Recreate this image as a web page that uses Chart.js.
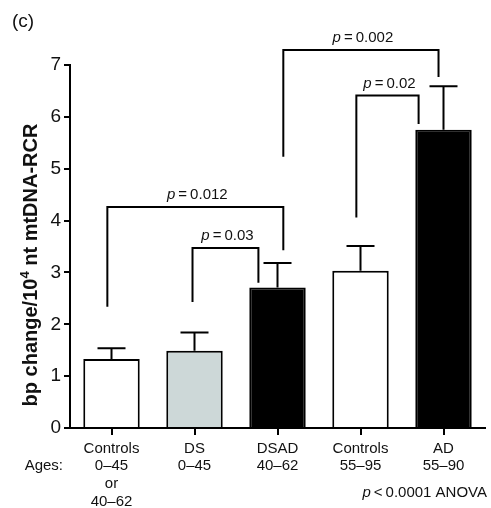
<!DOCTYPE html>
<html>
<head>
<meta charset="utf-8">
<script src="https://cdn.jsdelivr.net/npm/chart.js@4/dist/chart.umd.min.js"></script>
<style>
  html, body { margin: 0; padding: 0; background: #fff; }
  #wrap { width: 491px; height: 508px; position: relative; }
</style>
</head>
<body>
<div id="wrap"><canvas id="c" width="491" height="508"></canvas></div>
<script>
// ---- data ----
const categories = [
  ["Controls", "0–45", "or", "40–62"],
  ["DS", "0–45"],
  ["DSAD", "40–62"],
  ["Controls", "55–95"],
  ["AD", "55–90"]
];
const means = [1.33, 1.49, 2.71, 3.03, 5.75];
const sem = [0.21, 0.35, 0.47, 0.48, 0.84];
const barColors = ["#ffffff", "#cdd8d8", "#000000", "#ffffff", "#000000"];
const yTicks = [0, 1, 2, 3, 4, 5, 6, 7];
// significance brackets: x in category units, y in data units
const brackets = [
  { x1: -0.05, x2: 2.07, y: 4.26, leg1: 2.34, leg2: 3.43, p: "0.012" },
  { x1: 0.976, x2: 1.77, y: 3.47, leg1: 2.43, leg2: 2.80, p: "0.03" },
  { x1: 2.07, x2: 3.94, y: 7.29, leg1: 5.23, leg2: 6.77, p: "0.002" },
  { x1: 2.95, x2: 3.70, y: 6.41, leg1: 4.06, leg2: 5.86, p: "0.02" }
];

const FONT = "'Liberation Sans', Arial, Helvetica, sans-serif";
const INK = "#111";
const TS = "\u2009";

const overlay = {
  id: 'overlay',
  afterDatasetsDraw(chart) {
    const ctx = chart.ctx;
    const xs = chart.scales.x, ys = chart.scales.y;
    ctx.save();
    ctx.strokeStyle = "#000";
    ctx.lineWidth = 2;
    ctx.lineCap = 'butt';
    // error bars
    means.forEach((m, i) => {
      const x = xs.getPixelForValue(i);
      const yb = ys.getPixelForValue(m);
      const yt = ys.getPixelForValue(m + sem[i]);
      ctx.beginPath();
      ctx.moveTo(x, yb);
      ctx.lineTo(x, yt);
      ctx.moveTo(x - 14, yt);
      ctx.lineTo(x + 14, yt);
      ctx.stroke();
    });
    // brackets
    const step = xs.getPixelForValue(1) - xs.getPixelForValue(0);
    const px = v => xs.getPixelForValue(0) + v * step;
    brackets.forEach(b => {
      const x1 = px(b.x1), x2 = px(b.x2);
      const y = ys.getPixelForValue(b.y);
      ctx.beginPath();
      ctx.moveTo(x1, ys.getPixelForValue(b.leg1));
      ctx.lineTo(x1, y);
      ctx.lineTo(x2, y);
      ctx.lineTo(x2, ys.getPixelForValue(b.leg2));
      ctx.stroke();
      // label
      const fi = "italic 15px " + FONT, fn = "15px " + FONT;
      const rest = TS + "=" + TS + b.p;
      ctx.font = fi; const wp = ctx.measureText("p").width;
      ctx.font = fn; const wr = ctx.measureText(rest).width;
      const cx = (x1 + x2) / 2 + 2;
      const sx = cx - (wp + wr) / 2;
      const by = y - 8;
      ctx.fillStyle = INK;
      ctx.textBaseline = 'alphabetic';
      ctx.textAlign = 'left';
      ctx.font = fi; ctx.fillText("p", sx, by);
      ctx.font = fn; ctx.fillText(rest, sx + wp, by);
    });
    ctx.restore();
  },
  afterDraw(chart) {
    const ctx = chart.ctx;
    ctx.save();
    ctx.fillStyle = INK;
    // panel label
    ctx.font = "19px " + FONT;
    ctx.textBaseline = 'middle';
    ctx.textAlign = 'left';
    ctx.fillText("(c)", 12, 22);
    // Ages:
    ctx.font = "15px " + FONT;
    ctx.textAlign = 'right';
    ctx.fillText("Ages:", 63, 466);
    // ANOVA
    const f1 = "italic 15px " + FONT, f2 = "15px " + FONT;
    const rest = TS + "<" + TS + "0.0001 ANOVA";
    ctx.font = f2; const wr = ctx.measureText(rest).width;
    ctx.font = f1; const wp = ctx.measureText("p").width;
    const right = 487;
    ctx.textAlign = 'left';
    ctx.font = f1; ctx.fillText("p", right - wr - wp, 493);
    ctx.font = f2; ctx.fillText(rest, right - wr, 493);
    // y title with superscript
    const t1 = "bp change/10", t2 = "4", t3 = " nt mtDNA-RCR";
    const fb = "bold 20px " + FONT, fs = "bold 13px " + FONT;
    ctx.font = fb; const w1 = ctx.measureText(t1).width, w3 = ctx.measureText(t3).width;
    ctx.font = fs; const w2 = ctx.measureText(t2).width;
    const total = w1 + w2 + w3;
    ctx.translate(31, 265);
    ctx.rotate(-Math.PI / 2);
    ctx.textBaseline = 'middle';
    ctx.textAlign = 'left';
    const x0 = -total / 2;
    ctx.font = fb; ctx.fillText(t1, x0, 0);
    ctx.font = fs; ctx.fillText(t2, x0 + w1, -6);
    ctx.font = fb; ctx.fillText(t3, x0 + w1 + w2, 0);
    ctx.restore();
  }
};

new Chart(document.getElementById('c'), {
  type: 'bar',
  data: {
    labels: categories,
    datasets: [{
      data: means,
      backgroundColor: barColors,
      borderColor: "#000",
      borderWidth: 2,
      borderSkipped: 'bottom',
      categoryPercentage: 1.0,
      barPercentage: 0.68
    }]
  },
  options: {
    responsive: false,
    animation: false,
    devicePixelRatio: 1,
    layout: { padding: { top: 65, right: 6, left: 0, bottom: 0 } },
    plugins: { legend: { display: false }, tooltip: { enabled: false } },
    scales: {
      x: {
        offset: true,
        grid: { offset: false, drawOnChartArea: false, drawTicks: true, tickLength: 7, color: "#000", lineWidth: 2 },
        border: { display: true, color: "#000", width: 2 },
        ticks: { color: INK, font: { family: FONT, size: 15, lineHeight: 1.17 }, padding: 5, maxRotation: 0, autoSkip: false },
        afterFit(s) { s.height = 80; }
      },
      y: {
        min: 0, max: 7,
        afterBuildTicks(s) { s.ticks = yTicks.map(v => ({ value: v })); },
        grid: { drawOnChartArea: false, drawTicks: true, tickLength: 6, color: "#000", lineWidth: 2 },
        border: { display: true, color: "#000", width: 2 },
        ticks: { color: INK, font: { family: FONT, size: 19 }, padding: 3 },
        afterFit(s) { s.width = 70; }
      }
    }
  },
  plugins: [overlay]
});
</script>
</body>
</html>
